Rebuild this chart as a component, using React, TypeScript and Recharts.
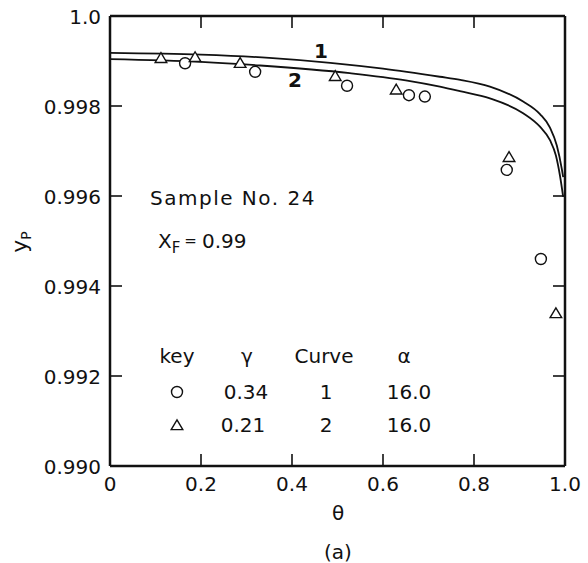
import React from "react";
import { ComposedChart, Line, Scatter, XAxis, YAxis } from "recharts";

// curve 1 (gamma = 0.34, alpha = 16.0)
const curve1Theta = [0, 0.2, 0.35, 0.484, 0.6, 0.725, 0.77, 0.835, 0.908, 0.945, 0.967, 0.982, 0.993, 0.996];
const curve1Yp = [0.99918, 0.99914, 0.99907, 0.99896, 0.99883, 0.99865, 0.99858, 0.99843, 0.9981, 0.99782, 0.99752, 0.99712, 0.9966, 0.99642];

// curve 2 (gamma = 0.21, alpha = 16.0)
const curve2Theta = [0, 0.2, 0.33, 0.527, 0.65, 0.725, 0.769, 0.835, 0.908, 0.945, 0.967, 0.98, 0.989, 0.996];
const curve2Yp = [0.99904, 0.99898, 0.9989, 0.99873, 0.99857, 0.99843, 0.99833, 0.99817, 0.99784, 0.99754, 0.99724, 0.9969, 0.99645, 0.99598];

// measured points
const circleTheta = [0.165, 0.319, 0.521, 0.657, 0.692, 0.872, 0.947];
const circleYp = [0.99895, 0.99876, 0.99845, 0.99824, 0.99821, 0.99658, 0.9946];
const triangleTheta = [0.112, 0.187, 0.286, 0.495, 0.629, 0.877, 0.98];
const triangleYp = [0.99907, 0.99909, 0.99896, 0.99867, 0.99837, 0.99687, 0.9934];

const xTicks = [0, 0.2, 0.4, 0.6, 0.8, 1.0];
const xTickLabels = ["0", "0.2", "0.4", "0.6", "0.8", "1.0"];
const yTicks = [0.99, 0.992, 0.994, 0.996, 0.998, 1.0];
const yTickLabels = ["0.990", "0.992", "0.994", "0.996", "0.998", "1.0"];

const zip = (xs: number[], ys: number[]) => xs.map((x, i) => ({ x, y: ys[i] }));

const curve1 = zip(curve1Theta, curve1Yp);
const curve2 = zip(curve2Theta, curve2Yp);
const circles = zip(circleTheta, circleYp);
const triangles = zip(triangleTheta, triangleYp);

const INK = "#111";
const FONT = "'DejaVu Sans', sans-serif";
const TICK_LEN = 12;

function BottomTick(props: any) {
  const { x, y, index } = props;
  const inner = index > 0 && index < xTicks.length - 1;
  return (
    <g>
      {inner ? <line x1={x} y1={y} x2={x} y2={y - TICK_LEN} stroke={INK} strokeWidth={1.6} /> : null}
      <text x={x} y={y + 18} textAnchor="middle" dominantBaseline="central" fontFamily={FONT} fontSize={20} fill={INK}>
        {xTickLabels[index]}
      </text>
    </g>
  );
}

function TopTick(props: any) {
  const { x, y, index } = props;
  const inner = index > 0 && index < xTicks.length - 1;
  return (
    <g>
      {inner ? <line x1={x} y1={y} x2={x} y2={y + TICK_LEN} stroke={INK} strokeWidth={1.6} /> : null}
    </g>
  );
}

function LeftTick(props: any) {
  const { x, y, index } = props;
  const inner = index > 0 && index < yTicks.length - 1;
  return (
    <g>
      {inner ? <line x1={x} y1={y} x2={x + TICK_LEN} y2={y} stroke={INK} strokeWidth={1.6} /> : null}
      <text x={x - 9} y={y + 1} textAnchor="end" dominantBaseline="central" fontFamily={FONT} fontSize={20} fill={INK}>
        {yTickLabels[index]}
      </text>
    </g>
  );
}

function RightTick(props: any) {
  const { x, y, index } = props;
  const inner = index > 0 && index < yTicks.length - 1;
  return (
    <g>
      {inner ? <line x1={x} y1={y} x2={x - TICK_LEN} y2={y} stroke={INK} strokeWidth={1.6} /> : null}
    </g>
  );
}

function CircleMark(props: any) {
  const { cx, cy } = props;
  return <circle cx={cx} cy={cy} r={5.5} fill="#fff" stroke={INK} strokeWidth={1.4} />;
}

function TriangleMark(props: any) {
  const { cx, cy } = props;
  const pts = `${cx - 5.8},${cy + 4.6} ${cx + 5.8},${cy + 4.6} ${cx},${cy - 5.2}`;
  return <polygon points={pts} fill="#fff" stroke={INK} strokeWidth={1.4} />;
}

const txt: React.CSSProperties = {
  position: "absolute",
  fontFamily: FONT,
  fontSize: 20,
  color: INK,
  whiteSpace: "nowrap",
  lineHeight: 1,
};

function At({ x, y, children, style }: { x: number; y: number; children: React.ReactNode; style?: React.CSSProperties }) {
  return (
    <div style={{ ...txt, left: x, top: y, transform: "translate(-50%, -50%)", ...style }}>{children}</div>
  );
}

export default function App() {
  const axisLine = { stroke: INK, strokeWidth: 2.5 };
  return (
    <div style={{ position: "absolute", left: 0, top: 0, width: 588, height: 563, background: "#fff" }}>
      <ComposedChart width={588} height={563} margin={{ top: 15, right: 22, bottom: 0, left: 0 }}>
        <XAxis
          xAxisId="b"
          dataKey="x"
          type="number"
          domain={[0, 1]}
          ticks={xTicks}
          interval={0}
          height={97}
          tickSize={0}
          tickMargin={0}
          tickLine={false}
          axisLine={axisLine}
          tick={<BottomTick />}
          allowDataOverflow
        />
        <XAxis
          xAxisId="t"
          orientation="top"
          dataKey="x"
          type="number"
          domain={[0, 1]}
          ticks={xTicks}
          interval={0}
          height={1}
          tickSize={0}
          tickMargin={0}
          tickLine={false}
          axisLine={axisLine}
          tick={<TopTick />}
          allowDataOverflow
        />
        <YAxis
          yAxisId="l"
          type="number"
          domain={[0.99, 1.0]}
          ticks={yTicks}
          interval={0}
          width={110}
          tickSize={0}
          tickMargin={0}
          tickLine={false}
          axisLine={axisLine}
          tick={<LeftTick />}
          allowDataOverflow
        />
        <YAxis
          yAxisId="r"
          orientation="right"
          type="number"
          domain={[0.99, 1.0]}
          ticks={yTicks}
          interval={0}
          width={1}
          tickSize={0}
          tickMargin={0}
          tickLine={false}
          axisLine={axisLine}
          tick={<RightTick />}
          allowDataOverflow
        />
        <Line
          xAxisId="b"
          yAxisId="l"
          data={curve1}
          dataKey="y"
          type="monotone"
          stroke={INK}
          strokeWidth={1.8}
          dot={false}
          isAnimationActive={false}
        />
        <Line
          xAxisId="b"
          yAxisId="l"
          data={curve2}
          dataKey="y"
          type="monotone"
          stroke={INK}
          strokeWidth={1.8}
          dot={false}
          isAnimationActive={false}
        />
        <Scatter xAxisId="b" yAxisId="l" data={circles} dataKey="y" shape={<CircleMark />} isAnimationActive={false} />
        <Scatter xAxisId="b" yAxisId="l" data={triangles} dataKey="y" shape={<TriangleMark />} isAnimationActive={false} />
      </ComposedChart>

      {/* curve labels */}
      <At x={321} y={51} style={{ fontWeight: "bold" }}>1</At>
      <At x={295} y={80} style={{ fontWeight: "bold" }}>2</At>

      {/* annotations */}
      <div style={{ ...txt, left: 150, top: 198, transform: "translateY(-50%)", letterSpacing: 1.5 }}>Sample No. 24</div>
      <div style={{ ...txt, left: 158, top: 243, transform: "translateY(-50%)" }}>
        X<sub style={{ fontSize: 15, verticalAlign: -5 }}>F</sub>
        <span style={{ fontSize: 15, margin: "0 5px 0 4px", verticalAlign: 2 }}>=</span>0.99
      </div>

      {/* key table */}
      <At x={177} y={356}>key</At>
      <At x={247} y={356}>γ</At>
      <At x={324} y={356}>Curve</At>
      <At x={404} y={356}>α</At>

      <svg style={{ position: "absolute", left: 170, top: 385, overflow: "visible" }} width={14} height={48}>
        <circle cx={7} cy={7} r={5.5} fill="#fff" stroke={INK} strokeWidth={1.4} />
        <polygon points="1.2,44.6 12.8,44.6 7,34.8" fill="#fff" stroke={INK} strokeWidth={1.4} />
      </svg>
      <At x={246} y={392}>0.34</At>
      <At x={326} y={392}>1</At>
      <At x={409} y={392}>16.0</At>

      <At x={243} y={425}>0.21</At>
      <At x={326} y={425}>2</At>
      <At x={409} y={425}>16.0</At>

      {/* axis titles */}
      <At x={338} y={513}>θ</At>
      <At x={338} y={552}>(a)</At>
      <At x={21} y={242} style={{ transform: "translate(-50%, -50%) rotate(-90deg)", fontSize: 22 }}>
        y<sub style={{ fontSize: 14, verticalAlign: -4 }}>P</sub>
      </At>
    </div>
  );
}
